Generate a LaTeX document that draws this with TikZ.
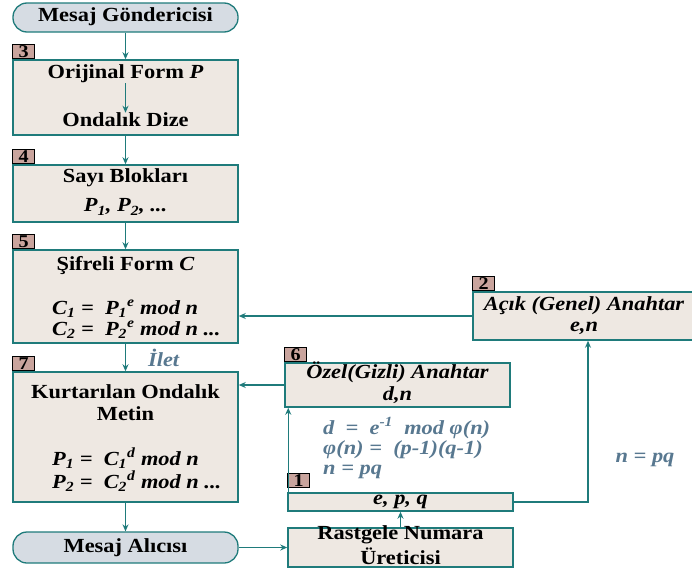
\documentclass[tikz,border=0pt]{standalone}
\usepackage{fontspec}
\setmainfont{Liberation Serif}[FakeStretch=1.12]
\usetikzlibrary{arrows.meta}
\definecolor{edge}{HTML}{1F7B7B}
\definecolor{boxfill}{HTML}{EEE8E2}
\definecolor{pillfill}{HTML}{D6DCE3}
\definecolor{tagfill}{HTML}{C9A49D}
\definecolor{note}{HTML}{587890}
\begin{document}
\begin{tikzpicture}[x=1pt,y=-1pt]
\tikzstyle{box}=[draw=edge, line width=1.5pt, fill=boxfill, rectangle, inner sep=0pt]
\tikzstyle{pill}=[draw=edge, line width=1.3pt, fill=pillfill, rectangle, rounded corners=14pt, inner sep=0pt]
\tikzstyle{tag}=[draw=black, line width=1pt, fill=tagfill, inner sep=0pt, minimum width=22pt, minimum height=14pt, anchor=south west, font=\fontsize{18}{18}\selectfont\bfseries]
\tikzstyle{txt}=[inner sep=0pt, font=\fontsize{20}{21}\selectfont\bfseries]
\tikzstyle{itxt}=[txt, font=\fontsize{20}{21}\selectfont\bfseries\itshape]
\tikzstyle{blue}=[itxt, text=note]
\tikzstyle{arr}=[draw=edge, line width=1.2pt, -{Stealth[length=7pt,width=6pt]}]

\useasboundingbox (0,0) rectangle (692,570);

% left column
\draw (125.5,17.5) node[pill, minimum width=225pt, minimum height=29pt] (send) {};
\draw (125.5,97.5) node[box, minimum width=225pt, minimum height=75pt] (b3) {};
\draw (125.5,193.5) node[box, minimum width=225pt, minimum height=57pt] (b4) {};
\draw (125.5,296.5) node[box, minimum width=225pt, minimum height=93pt] (b5) {};
\draw (125.5,437) node[box, minimum width=225pt, minimum height=130pt] (b7) {};
\draw (125.5,547.5) node[pill, minimum width=225pt, minimum height=31pt] (recv) {};

% right side
\draw (584,316) node[box, minimum width=222pt, minimum height=48pt] (b2) {};
\draw (397.5,385) node[box, minimum width=225pt, minimum height=44pt] (b6) {};
\draw (400.5,502) node[box, minimum width=225pt, minimum height=18pt] (b1) {};
\draw (400.5,547.5) node[box, minimum width=225pt, minimum height=39pt] (rng) {};

% tags
\node[tag] (t3) at (b3.north west) {3};
\node[tag] (t4) at (b4.north west) {4};
\node[tag] (t5) at (b5.north west) {5};
\node[tag] (t7) at (b7.north west) {7};
\node[tag] (t2) at (b2.north west) {2};
\node[tag] (t6) at (b6.north west) {6};
\node[tag] (t1) at ([yshift=4pt]b1.north west) {1};

% texts
\draw (125.5,17) node[txt] (sendtxt) {Mesaj Göndericisi};
\draw (125.5,74) node[txt] (orig) {Orijinal Form \textit{P}};
\draw (125.5,120) node[txt] (ondal) {Ondalık Dize};
\draw (125.5,178) node[txt] (blk) {Sayı Blokları};
\draw (125.5,207) node[itxt] (pp) {P\textsubscript{1}, P\textsubscript{2}, ...};
\draw (125.5,266) node[txt] (sif) {Şifreli Form \textit{C}};
\draw (52,309) node[itxt, anchor=west] (c1) {C\textsubscript{1} =\ \ P\textsubscript{1}\textsuperscript{e} mod n};
\draw (52,330) node[itxt, anchor=west] (c2) {C\textsubscript{2} =\ \ P\textsubscript{2}\textsuperscript{e} mod n ...};
\draw (125.5,392) node[txt] (kurt) {Kurtarılan Ondalık};
\draw (125.5,414) node[txt] (metin) {Metin};
\draw (52,458) node[itxt, anchor=west] (p1) {P\textsubscript{1} =\ \ C\textsubscript{1}\textsuperscript{d} mod n};
\draw (52,481) node[itxt, anchor=west] (p2) {P\textsubscript{2} =\ \ C\textsubscript{2}\textsuperscript{d} mod n ...};
\draw (125.5,548) node[txt] (recvtxt) {Mesaj Alıcısı};

\draw (584,306) node[itxt] (acik) {Açık (Genel) Anahtar};
\draw (584,328) node[itxt] (en) {e,n};
\draw (397.5,372) node[itxt] (ozel) {Özel(Gizli) Anahtar};
\draw (397.5,395) node[itxt] (dn) {d,n};
\draw (323,428) node[blue, anchor=west] (f1) {d\ \ =\ \ e\textsuperscript{-1}\ \ mod φ(n)};
\draw (323,450) node[blue, anchor=west] (f2) {φ(n) =\ \ (p-1)(q-1)};
\draw (323,472) node[blue, anchor=west] (f3) {n = pq};
\draw (400.5,502) node[itxt] (epq) {e, p, q};
\draw (400.5,535) node[txt] (rast) {Rastgele Numara};
\draw (400.5,556) node[txt] (uret) {Üreticisi};
\draw (645,460) node[blue] (npq) {n = pq};

% connectors
\draw[arr] (send) -- (b3);
\draw[arr] (orig) -- (ondal);
\draw[arr] (b3) -- (b4);
\draw[arr] (b4) -- (b5);
\draw[arr] (b5) -- node[blue, right=22pt] {İlet} (b7);
\draw[arr] (b7) -- (recv);
\draw[arr] (recv.east) -- (rng.west);
\draw[arr] (rng.north) -- (b1.south);
\draw[arr] ([xshift=1pt]b1.north west) -- ([xshift=1pt]b1.north west |- b6.south);
\draw[arr] (b1.east) -| ([xshift=4pt]b2.south);
\draw[arr] (b2.west) -- (b2.west -| b5.east);
\draw[arr] (b6.west) -- (b6.west -| b7.east);
\end{tikzpicture}
\end{document}
